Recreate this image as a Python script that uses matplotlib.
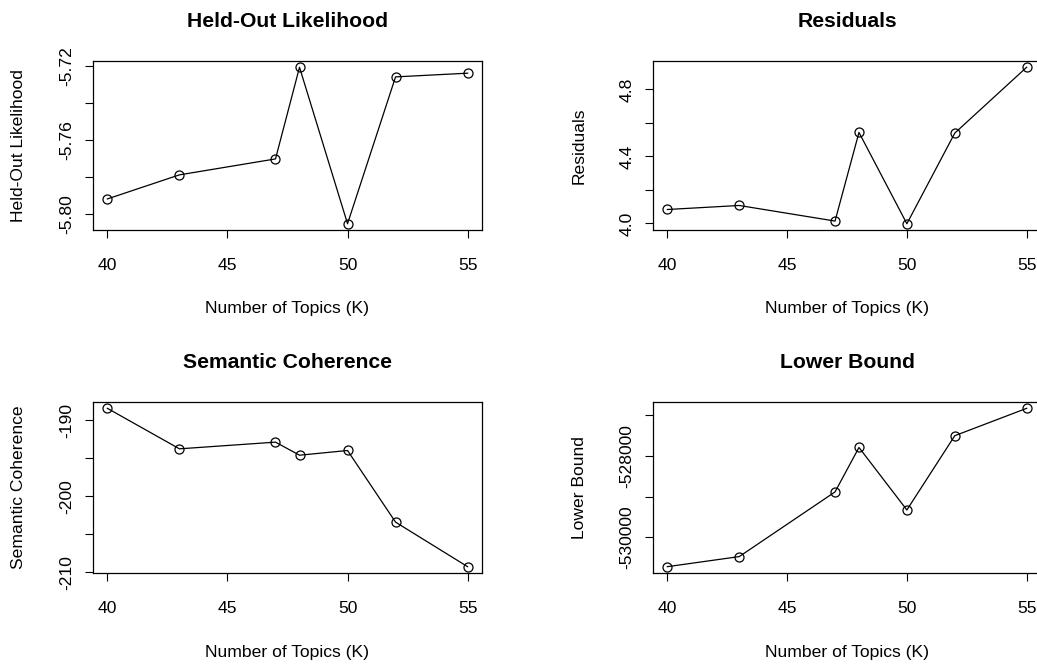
import numpy as np
import matplotlib as mpl
import matplotlib.pyplot as plt

# number of topics tried
K = [40, 43, 47, 48, 50, 52, 55]

# diagnostics
heldout = [-5.7916, -5.7786, -5.7700, -5.7205, -5.8050, -5.7257, -5.7237]
residuals = [4.083, 4.107, 4.014, 4.543, 3.998, 4.539, 4.932]
semcoh = [-188.41, -193.74, -192.86, -194.58, -193.96, -203.39, -209.25]
bound = [-530722, -530475, -528887, -527796, -529330, -527507, -526835]

xticks = [40, 45, 50, 55]
heldout_ticks = [-5.80, -5.78, -5.76, -5.74, -5.72]
heldout_labels = ['-5.80', '', '-5.76', '', '-5.72']
resid_ticks = [4.0, 4.2, 4.4, 4.6, 4.8]
resid_labels = ['4.0', '', '4.4', '', '4.8']
semcoh_ticks = [-210, -205, -200, -195, -190]
semcoh_labels = ['-210', '', '-200', '', '-190']
bound_ticks = [-530000, -529000, -528000, -527000]
bound_labels = ['-530000', '', '-528000', '']

W, H = 1037, 664


def px_axes(fig, x0, y0, x1, y1):
    return fig.add_axes([x0 / W, 1 - y1 / H, (x1 - x0) / W, (y1 - y0) / H])


def r_panel(ax, y, title, yticks, ylabels, w_px, h_px):
    ax.plot(K, y, color='black', lw=0.9, marker='o', ms=6.5,
            mfc='none', mec='black', mew=0.9)
    ax.margins(x=0.04, y=0.04)
    ax.set_xticks(xticks)
    ax.set_xticklabels([str(t) for t in xticks])
    ax.set_yticks(yticks)
    ax.set_yticklabels(ylabels)
    ax.tick_params(axis='both', direction='out', length=5.5, width=0.8,
                   labelsize=12.6, color='black')
    ax.tick_params(axis='x', pad=14.5)
    ax.tick_params(axis='y', pad=8, labelrotation=90)
    for lab in ax.get_yticklabels():
        lab.set_va('center')
    for sp in ax.spines.values():
        sp.set_linewidth(0.9)
        sp.set_color('black')
    ax.set_title(title, fontsize=15.2, fontweight='bold', pad=24.5)
    ax.set_xlabel('Number of Topics (K)', fontsize=12.6)
    ax.xaxis.set_label_coords(0.5, -79 / h_px)
    ax.xaxis.label.set_va('center')
    ax.set_ylabel(title, fontsize=12.6)
    ax.yaxis.set_label_coords(-74 / w_px, 0.5)
    ax.yaxis.label.set_va('center')


mpl.rcParams['font.family'] = ['Liberation Sans', 'DejaVu Sans']

fig = plt.figure(figsize=(W / 100, H / 100), dpi=100)

ax1 = px_axes(fig, 93, 61, 482, 230)
ax2 = px_axes(fig, 653, 61, 1041, 230)
ax3 = px_axes(fig, 93, 402, 482, 573)
ax4 = px_axes(fig, 653, 402, 1041, 573)

r_panel(ax1, heldout, 'Held-Out Likelihood', heldout_ticks, heldout_labels, 389, 169)
r_panel(ax2, residuals, 'Residuals', resid_ticks, resid_labels, 388, 169)
r_panel(ax3, semcoh, 'Semantic Coherence', semcoh_ticks, semcoh_labels, 389, 171)
r_panel(ax4, bound, 'Lower Bound', bound_ticks, bound_labels, 388, 171)

fig.savefig('out.png', dpi=100)
